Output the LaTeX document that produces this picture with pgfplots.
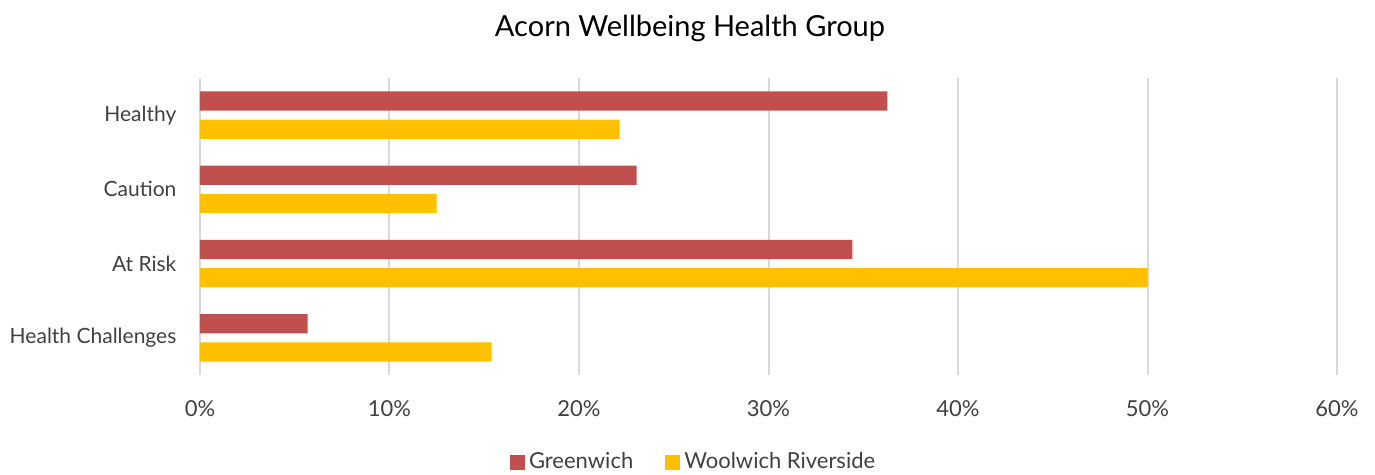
\documentclass[border=0pt]{standalone}
\usepackage{pgfplots}
\pgfplotsset{compat=1.18}
\usepackage{fontspec}
\setmainfont{Lato}
\definecolor{gred}{HTML}{C0504D}
\definecolor{wyel}{HTML}{FFC000}
\definecolor{txt}{HTML}{404040}
\definecolor{gridc}{HTML}{D9D9D9}
\begin{document}
\begin{tikzpicture}
\useasboundingbox (-100pt,-50pt) rectangle (587.5pt,187.5pt);
\begin{axis}[
  at={(0,0)}, anchor=south west,
  scale only axis, width=568.5pt, height=148.5pt,
  xbar, bar width=9.65pt,
  xmin=0, xmax=60, ymin=-0.5, ymax=3.5,
  xtick={0,10,20,30,40,50,60},
  xticklabels={0\%,10\%,20\%,30\%,40\%,50\%,60\%},
  ytick={0,1,2,3},
  yticklabels={Health Challenges, At Risk, Caution, Healthy},
  axis line style={draw=none},
  tick style={draw=none},
  xmajorgrids,
  major grid style={draw=gridc, line width=1pt},
  xticklabel style={font=\fontsize{11}{13}\selectfont, text=txt, anchor=center, yshift=-17pt},
  yticklabel style={font=\fontsize{10.5}{13}\selectfont, text=txt, xshift=-4pt},
  legend style={at={(0.435,-0.293)}, anchor=center, draw=none, fill=none,
    font=\fontsize{11}{13}\selectfont, text=txt,
    /tikz/every even column/.append style={column sep=14pt}},
  legend columns=2,
  legend image code/.code={\fill[#1] (0pt,-3.75pt) rectangle (7.5pt,3.75pt);},
]
\addplot[fill=gred, draw=none, bar shift=7.1pt] coordinates {(36.27,3) (23.04,2) (34.42,1) (5.68,0)};
\addlegendentry{Greenwich}
\addplot[fill=wyel, draw=none, bar shift=-7.1pt] coordinates {(22.14,3) (12.49,2) (50.0,1) (15.39,0)};
\addlegendentry{Woolwich Riverside}
\end{axis}
\node[font=\fontsize{14.5}{17}\selectfont, text=black] at (245pt,173.5pt) {Acorn Wellbeing Health Group};
\end{tikzpicture}
\end{document}
